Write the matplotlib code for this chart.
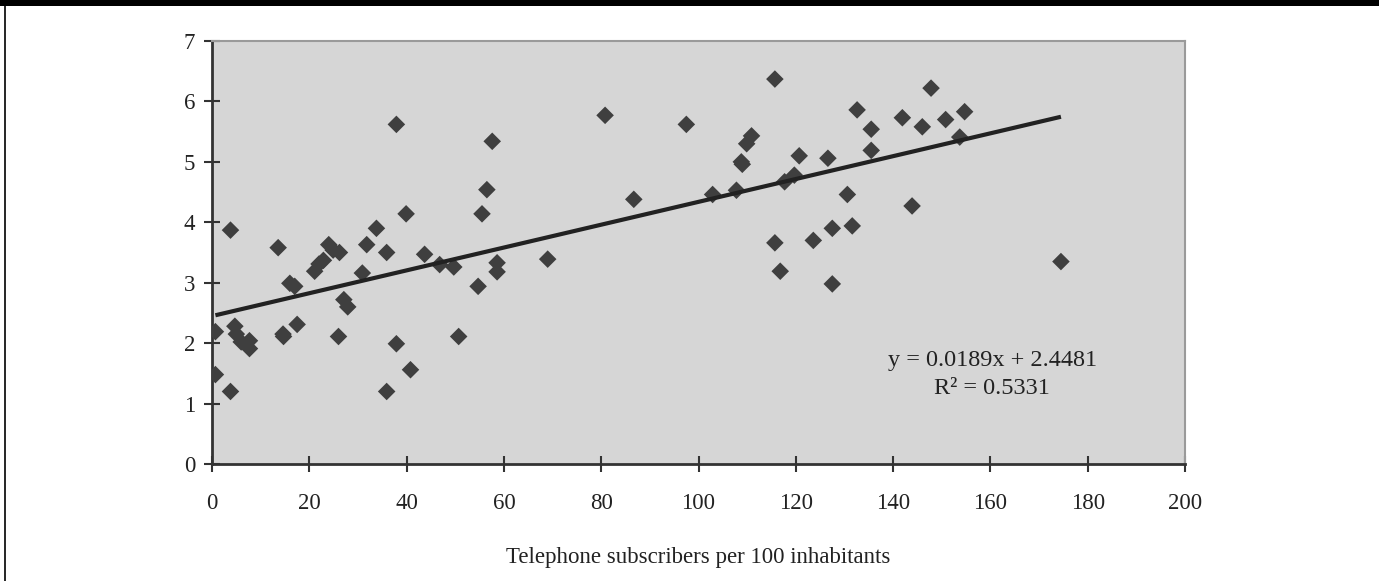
import matplotlib
matplotlib.use("Agg")
import matplotlib.pyplot as plt
from matplotlib.lines import Line2D
import numpy as np

# Data
subscribers = [0.7, 0.7, 3.8, 3.8, 4.7, 5.0, 6.0, 7.7, 7.7, 13.6, 14.6, 14.7, 16.0, 17.0,
               17.5, 21.1, 22.0, 22.9, 24.0, 24.9, 26.2, 26.0, 27.1, 27.9, 30.9, 31.8,
               33.8, 35.9, 35.9, 37.9, 37.9, 39.9, 40.8, 43.7, 46.8, 49.7, 50.7, 54.7,
               55.5, 56.5, 57.6, 58.6, 58.6, 69.0, 80.8, 86.7, 97.5, 102.9, 107.8, 108.8,
               109.0, 109.9, 110.9, 115.7, 115.7, 116.8, 117.7, 119.7, 120.7, 123.6,
               126.6, 127.5, 127.5, 130.6, 131.6, 132.6, 135.5, 135.5, 141.9, 143.9,
               146.0, 147.8, 150.8, 153.7, 154.7, 174.5]
index_values = [2.19, 1.48, 3.87, 1.20, 2.28, 2.15, 2.02, 2.04, 1.91, 3.58, 2.15, 2.11, 2.99,
                2.94, 2.31, 3.19, 3.31, 3.37, 3.63, 3.54, 3.50, 2.11, 2.72, 2.60, 3.16, 3.63,
                3.90, 3.50, 1.20, 5.62, 1.99, 4.14, 1.56, 3.47, 3.30, 3.26, 2.11, 2.94,
                4.14, 4.54, 5.34, 3.33, 3.18, 3.39, 5.77, 4.38, 5.62, 4.46, 4.53, 5.00,
                4.96, 5.30, 5.43, 6.37, 3.66, 3.19, 4.67, 4.78, 5.10, 3.70,
                5.06, 3.90, 2.98, 4.46, 3.94, 5.86, 5.54, 5.19, 5.73, 4.27,
                5.58, 6.22, 5.70, 5.41, 5.83, 3.35]
slope = 0.0189
intercept = 2.4481
r_squared = 0.5331
x_ticks = [0, 20, 40, 60, 80, 100, 120, 140, 160, 180, 200]
y_ticks = [0, 1, 2, 3, 4, 5, 6, 7]
x_label = "Telephone subscribers per 100 inhabitants"

plt.rcParams['font.family'] = ['Liberation Serif', 'DejaVu Serif']

fig = plt.figure(figsize=(13.79, 5.81), dpi=100)
ax = fig.add_axes([212/1379, 1 - 464/581, (1185-212)/1379, (464-41)/581])
ax.set_facecolor('#d6d6d6')

x = np.array(subscribers)
y = np.array(index_values)
ax.scatter(x, y, marker='D', s=80, color='#3f3f3f', edgecolors='none', zorder=3)

xl = np.array([x.min(), x.max()])
ax.plot(xl, slope * xl + intercept, color='#222222', lw=3.0, zorder=4, solid_capstyle='butt')

ax.set_xlim(0, 200)
ax.set_ylim(0, 7)
ax.set_xticks(x_ticks)
ax.set_yticks(y_ticks)
ax.tick_params(axis='both', direction='inout', length=12, width=1.5, color='#333333',
               labelsize=16.5, labelcolor='#222222')
ax.tick_params(axis='x', pad=15)
ax.tick_params(axis='y', pad=6)

for side in ['left', 'bottom']:
    ax.spines[side].set_color('#333333')
    ax.spines[side].set_linewidth(2)
for side in ['top', 'right']:
    ax.spines[side].set_color('#9a9a9a')
    ax.spines[side].set_linewidth(1.5)

ax.set_xlabel(x_label, fontsize=16.5, color='#222222', labelpad=24)

ax.text(0.802, 0.212, f"y = {slope}x + {intercept}\nR\u00b2 = {r_squared}",
        transform=ax.transAxes, ha='center', va='center', fontsize=17.5,
        color='#222222', linespacing=1.4, multialignment='center')

# page frame
fig.add_artist(plt.Rectangle((0, 1 - 6/581), 1, 6/581, transform=fig.transFigure,
                             color='black', lw=0))
fig.add_artist(Line2D([4.5/1379, 4.5/1379], [0, 1], transform=fig.transFigure,
                      color='black', lw=1.2))

fig.savefig('out.png', dpi=100, facecolor='white')
